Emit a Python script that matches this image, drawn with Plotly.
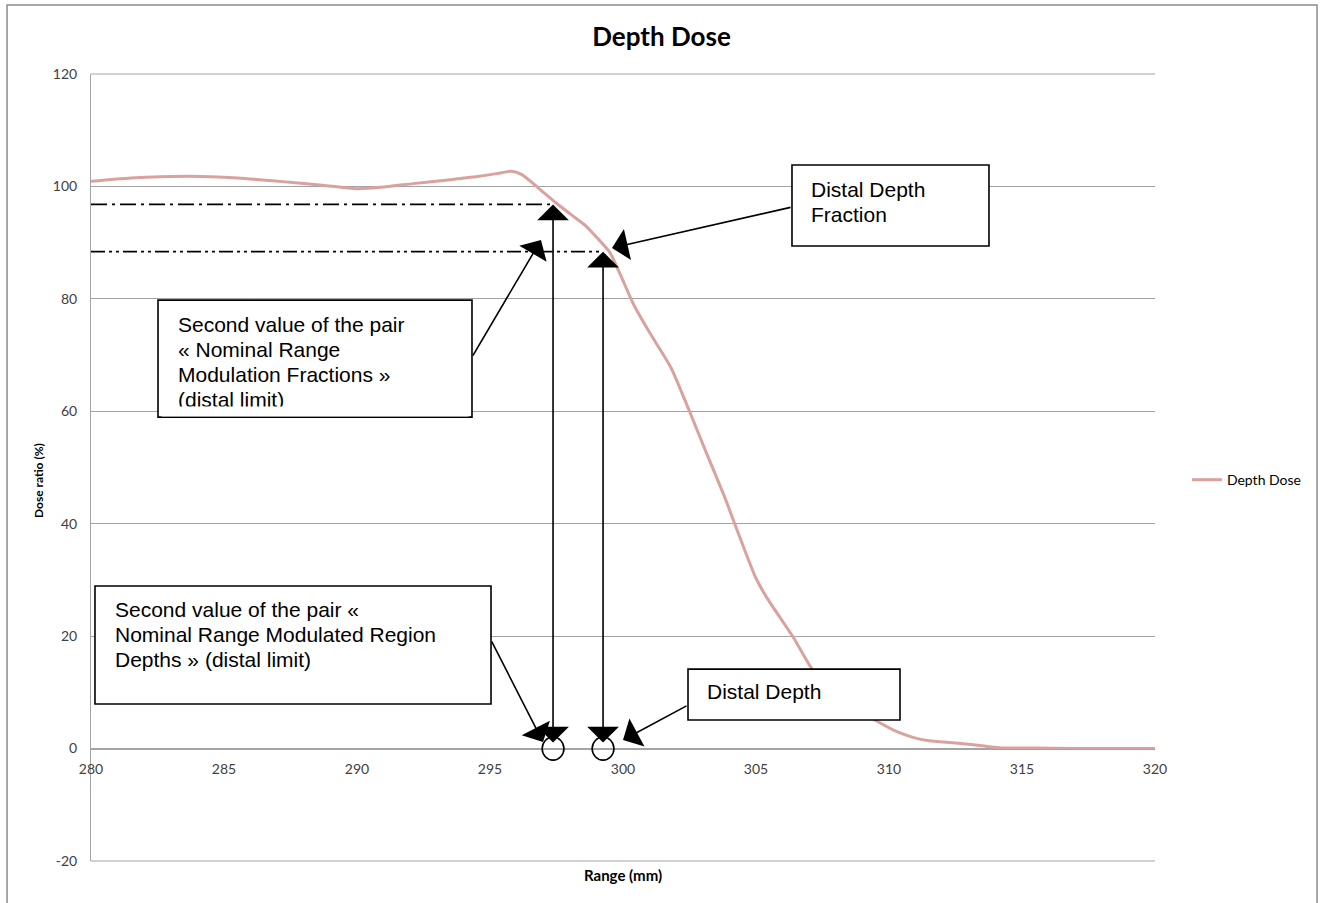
import plotly.graph_objects as go

# ---- data ----
depth_x = [280, 281.5, 283.7, 285.5, 287.1, 288.7, 290.0, 291.0, 292.1, 293.5, 294.6, 295.4,
           295.8, 296.2, 296.8, 297.5, 298.1, 298.6, 299.0, 299.5, 299.9, 300.4, 301.0,
           301.8, 302.5, 303.1, 303.8, 304.2, 304.6, 305.0, 305.4, 306.4, 307.1, 307.8, 308.5,
           309.5, 310.3, 310.9, 311.5, 312.5, 313.5, 314.3, 315.5, 317.0, 318.5, 320.0]
depth_y = [100.9, 101.5, 101.8, 101.5, 100.9, 100.2, 99.6, 99.9, 100.5, 101.2, 101.8, 102.4,
           102.7, 102.1, 99.8, 97.0, 94.8, 93.0, 91.0, 88.3, 84.3, 79.0, 74.0,
           67.8, 60.0, 53.0, 45.0, 40.0, 35.0, 30.3, 26.9, 19.8, 14.2, 10.5, 7.8,
           5.0, 3.0, 2.0, 1.4, 1.0, 0.5, 0.1, 0.1, 0.0, 0.0, 0.0]

ref_levels = [96.8, 88.4]        # dose fractions (dash-dot lines)
ref_depths = [297.37, 299.25]    # corresponding depths (mm)

x_ticks = [280, 285, 290, 295, 300, 305, 310, 315, 320]
y_ticks = [-20, 0, 20, 40, 60, 80, 100, 120]
y_tick_labels = ["-20", "0", "20", "40", "60", "80", "100", "120"]

GRID = "#a3a3a3"
TICKFONT = dict(family="Lato", size=14, color="#404040")
BOXFONT = dict(family="Liberation Sans", size=21, color="#000000")

fig = go.Figure()

fig.add_trace(go.Scatter(
    x=depth_x, y=depth_y, mode="lines", name="Depth Dose",
    line=dict(color="#d9a29e", width=3, shape="spline", smoothing=0.6),
))

dash_styles = ["16px,5px,3px,5px", "14px,4px,3px,4px,3px,4px"]
for lvl, dep, ds in zip(ref_levels, ref_depths, dash_styles):
    fig.add_trace(go.Scatter(
        x=[x_ticks[0], dep], y=[lvl, lvl], mode="lines", showlegend=False,
        line=dict(color="black", width=1.6, dash=ds), hoverinfo="skip",
    ))

shapes = []
# outer chart border
shapes.append(dict(type="rect", xref="paper", yref="paper", x0=-0.0789, x1=1.1523,
                   y0=-0.06, y1=1.0877, line=dict(color="#8c8c8c", width=1.5),
                   fillcolor="rgba(0,0,0,0)", layer="below"))
# plot-area top and bottom grid edges
for yy in (0, 1):
    shapes.append(dict(type="line", xref="paper", yref="paper", x0=0, x1=1, y0=yy, y1=yy,
                       line=dict(color=GRID, width=1), layer="below"))

# circles at depth points
for dep in ref_depths:
    shapes.append(dict(type="circle", xref="x", yref="y", x0=dep - 0.41, x1=dep + 0.41,
                       y0=-2.05, y1=2.05, line=dict(color="black", width=1.6),
                       fillcolor="rgba(0,0,0,0)", layer="above"))

# text boxes (x0, x1, y0, y1) in axis units
boxes = [
    (306.353, 313.759, 89.39, 103.80),
    (282.519, 294.323, 58.97, 79.78),
    (280.150, 295.038, 7.92, 28.91),
    (302.444, 310.414, 5.07, 14.14),
]
for x0, x1, y0, y1 in boxes:
    shapes.append(dict(type="rect", xref="x", yref="y", x0=x0, x1=x1, y0=y0, y1=y1,
                       line=dict(color="black", width=1.6), fillcolor="white", layer="above"))

annotations = []
# box texts: (x, [(y, text), ...])
texts = [
    (306.99, [(99.44, "Distal Depth"), (94.99, "Fraction")]),
    (283.19, [(75.43, "Second value of the pair"), (70.98, "« Nominal Range"),
              (66.53, "Modulation Fractions »"), (62.08, "(distal limit)")]),
    (280.83, [(24.73, "Second value of the pair «"), (20.28, "Nominal Range Modulated Region"),
              (15.83, "Depths » (distal limit)")]),
    (303.08, [(10.14, "Distal Depth")]),
]
for xl, lines in texts:
    for yy, t in lines:
        annotations.append(dict(x=xl, y=yy, xref="x", yref="y", text=t, showarrow=False,
                                xanchor="left", yanchor="middle", font=BOXFONT))
# clip the bottom of the overflowing text
annotations.append(dict(x=288.421, y=59.95, xref="x", yref="y", text=" ", showarrow=False,
                        bgcolor="white", width=306, height=9, borderpad=0,
                        font=dict(size=6), xanchor="center", yanchor="middle"))

ARW = dict(showarrow=True, arrowhead=1, arrowsize=3.3, arrowwidth=1.6, arrowcolor="black",
           xref="x", yref="y", axref="x", ayref="y", text="", standoff=0)

# vertical double-headed arrows
for lvl, dep in zip(ref_levels, ref_depths):
    annotations.append(dict(ARW, x=dep, y=lvl, ax=dep, ay=0.8, arrowside="end+start",
                            startarrowhead=1, startarrowsize=3.3))

# diagonal arrows (tip, tail)
diag = [
    ((299.586, 89.04), (306.353, 96.33)),
    ((296.917, 90.46), (294.323, 69.65)),
    ((296.992, 1.16), (295.038, 19.30)),
    ((300.0, 1.51), (302.444, 7.74)),
]
for (tx, ty), (sx, sy) in diag:
    annotations.append(dict(ARW, x=tx, y=ty, ax=sx, ay=sy))

# axis titles
annotations.append(dict(x=0.5, y=-0.0178, xref="paper", yref="paper", text="<b>Range (mm)</b>",
                        showarrow=False, font=dict(family="Lato", size=15, color="#000"),
                        xanchor="center", yanchor="middle"))
annotations.append(dict(x=-0.0498, y=0.4828, xref="paper", yref="paper",
                        text="<b>Dose ratio (%)</b>", textangle=-90, showarrow=False,
                        font=dict(family="Lato", size=12, color="#000"),
                        xanchor="center", yanchor="middle"))

fig.update_layout(
    width=1323, height=903,
    margin=dict(l=91, r=168, t=74, b=42),
    paper_bgcolor="white", plot_bgcolor="white",
    title=dict(text="<b>Depth Dose</b>", x=0.5, xref="container", xanchor="center",
               y=1 - 37 / 903, yref="container", yanchor="middle",
               font=dict(family="Lato", size=26, color="#000")),
    xaxis=dict(range=[280, 320], tickvals=x_ticks, showgrid=False, zeroline=False,
               showline=True, linecolor=GRID, linewidth=1, anchor="free",
               position=20 / 140, ticks="", tickfont=TICKFONT, ticklabelstandoff=8),
    yaxis=dict(range=[-20, 120], tickvals=y_ticks, ticktext=y_tick_labels, showgrid=True,
               gridcolor=GRID, gridwidth=1, zeroline=False, showline=True, linecolor=GRID,
               linewidth=1, ticks="", tickfont=TICKFONT, ticklabelstandoff=10),
    legend=dict(x=1.03, y=0.484, xanchor="left", yanchor="middle",
                font=dict(family="Lato", size=14, color="#000"), bgcolor="rgba(0,0,0,0)"),
    shapes=shapes,
    annotations=annotations,
)

fig.write_html("out.html", config={"displayModeBar": False},
               post_script="document.body.style.margin='0';")
